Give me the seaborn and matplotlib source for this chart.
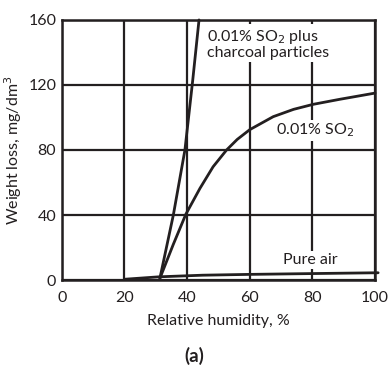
import numpy as np
import pandas as pd
import matplotlib
matplotlib.use("Agg")
import matplotlib.pyplot as plt
import seaborn as sns

# (relative humidity %, weight loss mg/dm^3)
pure_air_rh = [20, 31, 45, 60, 80, 101]
pure_air_loss = [0.5, 2.0, 3.0, 3.5, 4.0, 4.5]

so2_rh = [31.3, 35.6, 39.6, 44.1, 48.3, 52.6, 56, 60, 67.5, 74, 80.3, 88.8, 95, 100]
so2_loss = [1, 22, 40.5, 56.4, 69.7, 80, 86.5, 92.5, 100.5, 105, 108.1, 111.2, 113.3, 115]

charcoal_rh = [31.3, 35.6, 39.3, 41.8, 43.8]
charcoal_loss = [1, 40, 80, 123, 160]

x_ticks = [0, 20, 40, 60, 80, 100]
y_ticks = [0, 40, 80, 120, 160]

INK = "#231f20"

sns.set_style("white")
plt.rcParams["font.family"] = ["Lato", "DejaVu Sans"]

fig = plt.figure(figsize=(3.89, 3.69), dpi=100)
ax = fig.add_axes([0.159, 0.241, 0.805, 0.705])

for xs, ys in [(pure_air_rh, pure_air_loss), (so2_rh, so2_loss), (charcoal_rh, charcoal_loss)]:
    df = pd.DataFrame({"rh": xs, "loss": ys})
    sns.lineplot(data=df, x="rh", y="loss", ax=ax, color=INK, lw=2.0,
                 estimator=None, sort=False, zorder=4, clip_on=False)

ax.set_xlim(0, 100)
ax.set_ylim(0, 160)
ax.set_xticks(x_ticks)
ax.set_yticks(y_ticks)
ax.tick_params(length=0, labelsize=11.5, colors=INK)
ax.tick_params(axis="x", pad=8)
ax.tick_params(axis="y", pad=4)
ax.grid(True, color=INK, lw=1.6)
ax.set_axisbelow(True)
for s in ax.spines.values():
    s.set_color(INK)
    s.set_linewidth(1.8)

ax.set_xlabel("Relative humidity, %", fontsize=11.5, color=INK, labelpad=6)
ax.set_ylabel("Weight loss, mg/dm$^3$", fontsize=11.5, color=INK, labelpad=3)

box = dict(facecolor="white", edgecolor="none", pad=1.5)
ax.text(46.3, 155, "0.01% SO$_2$ plus\ncharcoal particles", fontsize=11.5, color=INK,
        va="top", ha="left", linespacing=1.0, bbox=box, zorder=5)
ax.text(68.5, 92, "0.01% SO$_2$", fontsize=11.5, color=INK,
        va="center", ha="left", bbox=box, zorder=5)
ax.text(70.7, 12.3, "Pure air", fontsize=11.5, color=INK,
        va="center", ha="left", bbox=box, zorder=5)

fig.text(0.5, 1 - 356 / 369, "(a)", fontsize=13.5, color=INK, fontweight="bold",
         ha="center", va="center")

fig.savefig("out.png", dpi=100)
